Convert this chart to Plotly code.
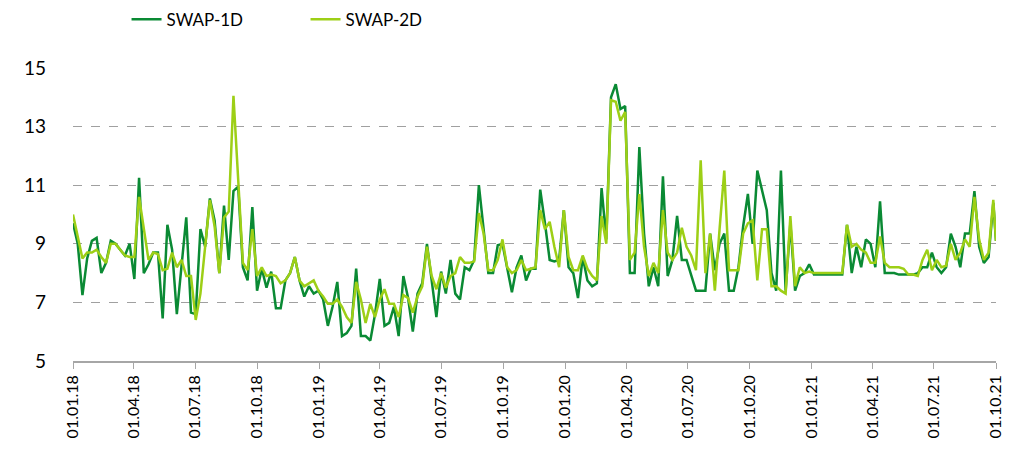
import pandas as pd
import plotly.graph_objects as go

# weekly readings from 01.01.18, plus the last point on 01.10.21
swap_1d = [
    9.7, 9.0, 7.25, 8.5, 9.1, 9.2, 8.0, 8.35, 9.1, 9.0,
    8.8, 8.6, 9.0, 7.8, 11.25, 8.0, 8.3, 8.7, 8.7, 6.45,
    9.65, 8.8, 6.6, 8.3, 9.9, 6.65, 6.6, 9.5, 8.9, 10.55,
    9.8, 8.0, 10.3, 8.45, 10.8, 10.95, 8.2, 7.75, 10.25, 7.4,
    8.15, 7.5, 8.05, 6.8, 6.8, 7.75, 8.0, 8.55, 7.75, 7.2,
    7.55, 7.3, 7.4, 7.1, 6.2, 6.85, 7.7, 5.85, 5.95, 6.2,
    8.15, 5.85, 5.85, 5.7, 6.6, 7.8, 6.2, 6.3, 6.85, 5.85,
    7.9, 7.15, 6.0, 7.3, 7.65, 9.0, 7.75, 6.5, 8.05, 7.3,
    8.45, 7.3, 7.1, 8.2, 8.1, 8.45, 11.0, 9.6, 8.0, 8.0,
    8.95, 9.0, 8.2, 7.35, 8.2, 8.6, 7.75, 8.15, 8.15, 10.85,
    9.7, 8.45, 8.4, 8.45, 10.15, 8.2, 8.0, 7.15, 8.55, 7.75,
    7.55, 7.65, 10.9, 9.15, 14.0, 14.45, 13.6, 13.7, 8.0, 8.0,
    12.3, 9.35, 7.55, 8.2, 7.55, 11.3, 7.9, 8.45, 9.95, 8.45,
    8.45, 7.9, 7.4, 7.4, 7.4, 9.35, 8.1, 9.0, 9.35, 7.4,
    7.4, 8.2, 9.6, 10.7, 9.0, 11.5, 10.85, 10.15, 8.0, 7.4,
    11.5, 7.4, 9.7, 7.4, 7.9, 8.0, 8.3, 7.95, 7.95, 7.95,
    7.95, 7.95, 7.95, 7.95, 9.65, 8.0, 8.9, 8.2, 9.15, 9.0,
    8.2, 10.45, 8.0, 8.0, 8.0, 7.95, 7.95, 7.95, 7.95, 8.0,
    8.2, 8.2, 8.7, 8.2, 8.0, 8.2, 9.35, 8.9, 8.2, 9.35,
    9.35, 10.8, 8.9, 8.35, 8.55, 10.4, 9.1,
]
swap_2d = [
    10.0, 9.3, 8.5, 8.7, 8.7, 8.8, 8.55, 8.35, 9.0, 9.0,
    8.8, 8.6, 8.55, 8.55, 10.6, 9.5, 8.45, 8.7, 8.65, 8.1,
    8.15, 8.7, 8.2, 8.45, 7.9, 7.9, 6.4, 7.3, 8.9, 10.5,
    9.6, 8.0, 9.9, 10.1, 14.05, 11.1, 8.35, 8.1, 9.5, 7.9,
    8.2, 7.9, 7.95, 7.9, 7.65, 7.75, 8.0, 8.55, 7.75, 7.55,
    7.65, 7.75, 7.4, 7.2, 6.95, 6.95, 7.1, 6.85, 6.5, 6.3,
    7.7, 7.1, 6.3, 6.95, 6.5, 7.1, 7.45, 6.95, 6.95, 6.5,
    7.25, 7.15, 6.65, 7.2, 7.55, 8.9, 7.9, 7.45, 8.0, 7.5,
    7.9, 8.0, 8.55, 8.35, 8.35, 8.4, 10.05, 9.35, 8.1, 8.1,
    8.45, 9.15, 8.2, 8.0, 8.1, 8.45, 8.1, 8.15, 8.2, 10.15,
    9.5, 9.75, 8.9, 8.2, 10.15, 8.55, 8.1, 8.1, 8.6, 8.15,
    7.9, 7.75, 9.95, 9.0, 13.9, 13.85, 13.2, 13.5, 8.45, 8.7,
    10.7, 8.9, 7.9, 8.35, 8.0, 10.15, 8.7, 8.45, 8.7, 9.55,
    8.9, 8.6, 8.1, 11.85, 8.0, 9.35, 7.4, 9.5, 11.5, 8.1,
    8.1, 8.1, 9.35, 9.7, 9.8, 7.75, 9.5, 9.5, 7.55, 7.55,
    7.4, 7.3, 9.95, 7.55, 8.2, 8.0, 8.05, 8.0, 8.0, 8.0,
    8.0, 8.0, 8.0, 8.0, 9.65, 8.9, 9.0, 8.8, 8.7, 8.35,
    8.35, 9.25, 8.35, 8.2, 8.2, 8.2, 8.15, 7.95, 7.95, 7.9,
    8.45, 8.8, 8.1, 8.45, 8.2, 8.25, 9.0, 8.45, 8.7, 9.15,
    8.9, 10.6, 9.15, 8.45, 8.7, 10.5, 9.1,
]
dates = list(pd.date_range("2018-01-01", periods=len(swap_1d) - 1, freq="7D")) + [pd.Timestamp("2021-10-01")]
tick_dates = pd.date_range("2018-01-01", "2021-10-01", freq="QS")
tick_labels = [d.strftime("%d.%m.%y") for d in tick_dates]

DARK = "#0A8A34"
LIGHT = "#9DCF16"

fig = go.Figure()
fig.add_trace(go.Scatter(x=dates, y=swap_1d, mode="lines", name="SWAP-1D",
                         line=dict(color=DARK, width=2.5)))
fig.add_trace(go.Scatter(x=dates, y=swap_2d, mode="lines", name="SWAP-2D",
                         line=dict(color=LIGHT, width=2.5)))

fig.update_xaxes(
    range=["2018-01-01", "2021-10-01"],
    tickvals=tick_dates, ticktext=tick_labels, tickangle=-90,
    ticks="outside", ticklen=6, tickcolor="#a6a6a6",
    showline=True, linecolor="#a6a6a6", linewidth=1.5,
    showgrid=False, zeroline=False, automargin=False,
    tickfont=dict(family="Lato", size=16, color="#000000"),
)
fig.update_yaxes(
    range=[5, 15], tickvals=[5, 7, 9, 11, 13, 15],
    showgrid=True, gridcolor="#a0a0a0", griddash="dash", gridwidth=1,
    zeroline=False, showline=False, ticks="", automargin=False,
    ticklabelstandoff=26,
    tickfont=dict(family="Lato", size=19, color="#000000"),
)
# the page adds an 8 px body margin, so the margins are trimmed to match
fig.update_layout(
    width=1020, height=462,
    margin=dict(l=65, r=32, t=60, b=109, autoexpand=False),
    plot_bgcolor="white", paper_bgcolor="white",
    showlegend=True,
    legend=dict(orientation="h", x=0.058, y=1.165, xanchor="left", yanchor="middle",
                entrywidth=134, entrywidthmode="pixels",
                font=dict(family="Lato", size=17, color="#000000")),
)
fig.write_html("out.html")
